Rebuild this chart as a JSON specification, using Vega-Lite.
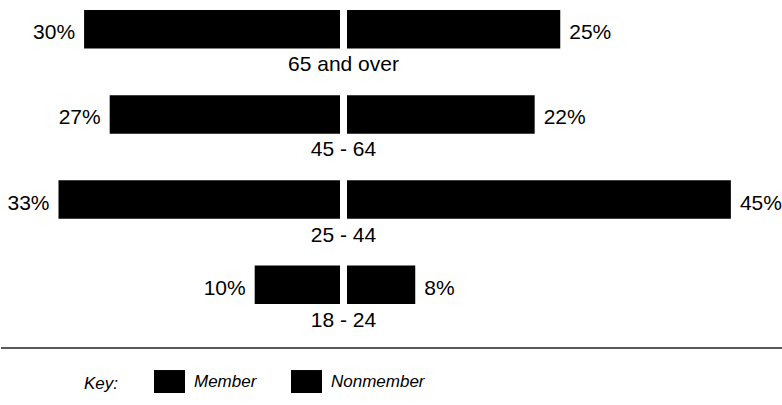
{
  "$schema": "https://vega.github.io/schema/vega-lite/v6.json",
  "padding": 0,
  "background": "white",
  "config": {
    "view": {"stroke": null},
    "font": "Liberation Sans",
    "text": {"font": "Liberation Sans", "color": "#000"}
  },
  "data": {
    "values": [
      {"age": "65 and over", "group": "Member", "pct": 0.30},
      {"age": "65 and over", "group": "Nonmember", "pct": 0.25},
      {"age": "45 - 64", "group": "Member", "pct": 0.27},
      {"age": "45 - 64", "group": "Nonmember", "pct": 0.22},
      {"age": "25 - 44", "group": "Member", "pct": 0.33},
      {"age": "25 - 44", "group": "Nonmember", "pct": 0.45},
      {"age": "18 - 24", "group": "Member", "pct": 0.10},
      {"age": "18 - 24", "group": "Nonmember", "pct": 0.08}
    ]
  },
  "spacing": 7,
  "vconcat": [
    {
      "spacing": 7,
      "bounds": "flush",
      "hconcat": [
        {
          "width": 339,
          "height": 314,
          "transform": [{"filter": "datum.group === 'Member'"}],
          "encoding": {
            "y": {"field": "age", "type": "nominal", "sort": ["65 and over", "45 - 64", "25 - 44", "18 - 24"], "scale": {"paddingInner": 0.547, "paddingOuter": 0.1176}, "axis": null},
            "x": {"field": "pct", "type": "quantitative", "scale": {"domain": [0, 0.3974], "reverse": true, "nice": false, "zero": true}, "axis": null}
          },
          "layer": [
            {
              "mark": {"type": "bar"},
              "encoding": {
                "color": {
                  "field": "group", "type": "nominal",
                  "scale": {"domain": ["Member", "Nonmember"], "range": ["#000000", "#000000"]},
                  "legend": {
                    "orient": "none", "legendX": 83, "legendY": 366, "direction": "horizontal",
                    "title": "Key:", "titleOrient": "left", "titleFontStyle": "italic", "titleFontWeight": "normal",
                    "titleFontSize": 17, "titleFont": "Liberation Sans", "titleColor": "#000", "titlePadding": 35,
                    "titleBaseline": "bottom", "titleAnchor": "end",
                    "labelFontStyle": "italic", "labelFontSize": 17, "labelFont": "Liberation Sans", "labelColor": "#000",
                    "labelOffset": 9, "columnPadding": 34, "symbolType": "M-1,-0.74H1V0.74H-1Z", "symbolSize": 961,
                    "symbolStrokeWidth": 0, "symbolOpacity": 1, "padding": 0
                  }
                }
              }
            },
            {
              "mark": {"type": "text", "align": "right", "dx": -9, "dy": 10, "baseline": "alphabetic", "fontSize": 21},
              "encoding": {"text": {"field": "pct", "type": "quantitative", "format": ".0%"}}
            }
          ]
        },
        {
          "width": 436,
          "height": 314,
          "transform": [{"filter": "datum.group === 'Nonmember'"}],
          "encoding": {
            "y": {"field": "age", "type": "nominal", "sort": ["65 and over", "45 - 64", "25 - 44", "18 - 24"], "scale": {"paddingInner": 0.547, "paddingOuter": 0.1176}, "axis": null},
            "x": {"field": "pct", "type": "quantitative", "scale": {"domain": [0, 0.5111], "nice": false, "zero": true}, "axis": null}
          },
          "layer": [
            {
              "mark": {"type": "bar"},
              "encoding": {
                "color": {
                  "field": "group", "type": "nominal",
                  "scale": {"domain": ["Member", "Nonmember"], "range": ["#000000", "#000000"]}
                }
              }
            },
            {
              "mark": {"type": "text", "align": "left", "dx": 9, "dy": 10, "baseline": "alphabetic", "fontSize": 21},
              "encoding": {
                "text": {"field": "pct", "type": "quantitative", "format": ".0%"}
              }
            },
            {
              "mark": {"type": "text", "align": "center", "dx": -3.5, "dy": 42, "baseline": "alphabetic", "fontSize": 21},
              "encoding": {
                "x": {"datum": 0, "type": "quantitative"},
                "text": {"field": "age", "type": "nominal"}
              }
            }
          ]
        }
      ]
    },
    {
      "width": 782,
      "height": 20,
      "data": {"values": [{"line": "divider"}]},
      "mark": {"type": "rule", "color": "#222", "strokeWidth": 1.5},
      "encoding": {
        "y": {"datum": 0.5, "type": "quantitative", "scale": {"domain": [0, 1]}, "axis": null}
      }
    }
  ]
}
